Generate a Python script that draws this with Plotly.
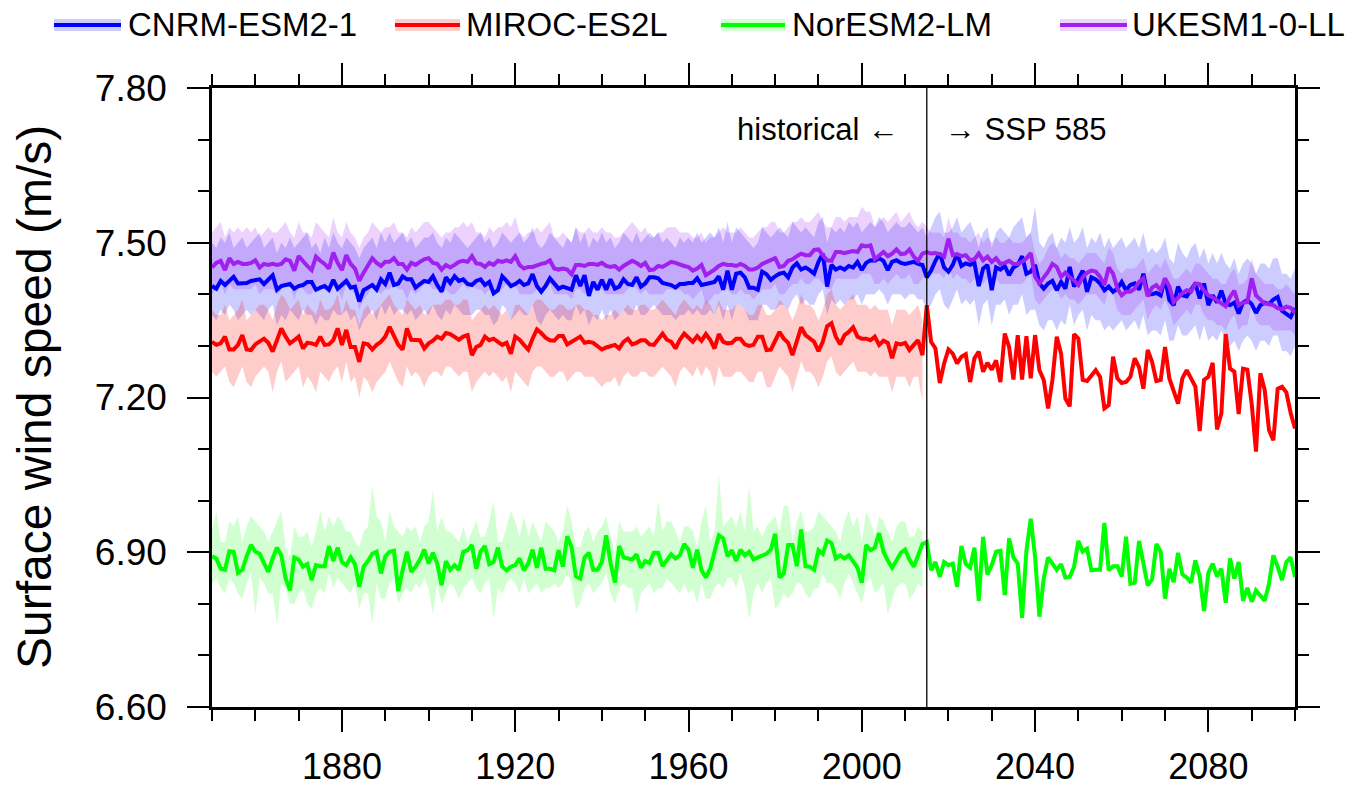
import plotly.graph_objects as go

FONT = "Liberation Sans, Arial, Helvetica, sans-serif"

years = list(range(1850, 2101))
hist_years = list(range(1850, 2015))

# ---------------- CNRM-ESM2-1 (blue) ----------------
cnrm = [
    7.416, 7.411, 7.426, 7.418, 7.426, 7.434, 7.421, 7.422, 7.422, 7.426,
    7.428, 7.429, 7.420, 7.429, 7.437, 7.409, 7.416, 7.418, 7.420, 7.411,
    7.416, 7.418, 7.424, 7.424, 7.409, 7.413, 7.416, 7.409, 7.428, 7.411,
    7.418, 7.426, 7.413, 7.415, 7.386, 7.408, 7.413, 7.418, 7.409, 7.429,
    7.420, 7.442, 7.418, 7.421, 7.435, 7.429, 7.429, 7.413, 7.420, 7.426,
    7.424, 7.435, 7.418, 7.405, 7.433, 7.422, 7.435, 7.426, 7.429, 7.420,
    7.418, 7.426, 7.429, 7.418,
    7.424, 7.402, 7.408, 7.435, 7.426, 7.416,
    7.420, 7.426, 7.418, 7.421, 7.439, 7.416, 7.405, 7.416, 7.431, 7.421,
    7.411, 7.415, 7.413, 7.409, 7.437, 7.416, 7.437, 7.397, 7.424, 7.409,
    7.428, 7.409, 7.429, 7.411, 7.415, 7.429, 7.420, 7.418, 7.433, 7.415,
    7.421, 7.433, 7.433, 7.431, 7.422, 7.420, 7.418, 7.413, 7.420, 7.420,
    7.422, 7.422, 7.431, 7.418, 7.421, 7.422, 7.424, 7.435, 7.409, 7.446,
    7.409, 7.440, 7.442, 7.433, 7.413,
    7.413, 7.409, 7.444, 7.439, 7.428,
    7.435, 7.440, 7.442, 7.433, 7.452, 7.460, 7.448, 7.452, 7.447, 7.440,
    7.463, 7.479, 7.415, 7.457, 7.448, 7.452, 7.448, 7.455, 7.452, 7.463,
    7.447, 7.461, 7.466, 7.465, 7.470, 7.465, 7.447, 7.463, 7.466, 7.461,
    7.459, 7.461, 7.463, 7.459, 7.457,
    7.433, 7.446, 7.465, 7.480, 7.452,
    7.444, 7.457, 7.479, 7.455, 7.460, 7.457, 7.461, 7.416, 7.450, 7.457,
    7.408, 7.452, 7.448, 7.455, 7.437, 7.452,
    7.457, 7.474, 7.440, 7.444,
    7.457, 7.421, 7.411, 7.421, 7.426, 7.408, 7.424, 7.411, 7.453, 7.415,
    7.431, 7.446, 7.405, 7.433, 7.429, 7.421, 7.408, 7.415, 7.405, 7.411,
    7.424, 7.408, 7.418, 7.421, 7.409, 7.440, 7.400, 7.400, 7.403, 7.398,
    7.431, 7.389, 7.379, 7.415, 7.398, 7.396, 7.409, 7.421, 7.392, 7.421,
    7.379, 7.398, 7.384, 7.407, 7.382, 7.379, 7.384, 7.363, 7.384, 7.389,
    7.381, 7.364, 7.379, 7.384, 7.381, 7.390, 7.395, 7.368, 7.362, 7.356,
    7.373,
]
cnrm_hi = [
    7.50, 7.49, 7.51, 7.50, 7.52, 7.49, 7.50, 7.51, 7.49, 7.50,
    7.51, 7.52, 7.49, 7.50, 7.51, 7.48, 7.50, 7.49, 7.51, 7.49,
    7.50, 7.51, 7.52, 7.49, 7.50, 7.48, 7.51, 7.49, 7.52, 7.50,
    7.49, 7.51, 7.50, 7.49, 7.47, 7.49, 7.50, 7.51, 7.49, 7.52,
    7.50, 7.52, 7.50, 7.51, 7.52, 7.50, 7.51, 7.49, 7.50, 7.51,
    7.51, 7.52, 7.50, 7.49, 7.51, 7.50, 7.52, 7.51, 7.50, 7.49,
    7.50, 7.51, 7.52, 7.50, 7.51, 7.49, 7.50, 7.52, 7.51, 7.50,
    7.51, 7.52, 7.50, 7.51, 7.53, 7.50, 7.49, 7.50, 7.52, 7.51,
    7.50, 7.49, 7.51, 7.50, 7.53, 7.50, 7.52, 7.49, 7.51, 7.50,
    7.52, 7.50, 7.51, 7.49, 7.50, 7.52, 7.51, 7.50, 7.52, 7.50,
    7.51, 7.52, 7.51, 7.52, 7.50, 7.51, 7.50, 7.49, 7.51, 7.50,
    7.51, 7.50, 7.52, 7.50, 7.51, 7.52, 7.51, 7.53, 7.50, 7.54,
    7.50, 7.53, 7.52, 7.51, 7.50, 7.49, 7.50, 7.53, 7.52, 7.51,
    7.52, 7.53, 7.52, 7.51, 7.54, 7.53, 7.52, 7.53, 7.52, 7.51,
    7.54, 7.55, 7.50, 7.53, 7.52, 7.53, 7.52, 7.54, 7.53, 7.54,
    7.52, 7.53, 7.54, 7.53, 7.55, 7.54, 7.52, 7.53, 7.54, 7.53,
    7.53, 7.54, 7.53, 7.52, 7.53,
    7.51, 7.53, 7.55, 7.56, 7.52,
    7.52, 7.53, 7.55, 7.52, 7.53, 7.54, 7.52, 7.49, 7.52, 7.53,
    7.49, 7.52, 7.53, 7.52, 7.51, 7.53, 7.54, 7.55, 7.51, 7.52,
    7.57, 7.50, 7.49, 7.51, 7.52, 7.49, 7.51, 7.50, 7.53, 7.50,
    7.51, 7.53, 7.49, 7.51, 7.50, 7.52, 7.49, 7.51, 7.49, 7.50,
    7.51, 7.49, 7.50, 7.51, 7.49, 7.52, 7.48, 7.49, 7.48, 7.49,
    7.51, 7.47, 7.46, 7.50, 7.48, 7.47, 7.49, 7.50, 7.47, 7.49,
    7.46, 7.48, 7.46, 7.48, 7.46, 7.45, 7.47, 7.44, 7.46, 7.47,
    7.46, 7.44, 7.46, 7.46, 7.45, 7.47, 7.47, 7.44, 7.44, 7.43,
    7.45,
]
cnrm_lo = [
    7.36, 7.35, 7.37, 7.36, 7.38, 7.37, 7.35, 7.36, 7.37, 7.36,
    7.37, 7.36, 7.35, 7.37, 7.38, 7.34, 7.36, 7.35, 7.37, 7.36,
    7.35, 7.37, 7.36, 7.36, 7.34, 7.36, 7.35, 7.35, 7.37, 7.36,
    7.36, 7.37, 7.35, 7.36, 7.33, 7.35, 7.36, 7.37, 7.35, 7.38,
    7.36, 7.38, 7.36, 7.37, 7.37, 7.36, 7.37, 7.35, 7.36, 7.37,
    7.36, 7.38, 7.36, 7.35, 7.37, 7.36, 7.38, 7.37, 7.36, 7.36,
    7.36, 7.37, 7.37, 7.36, 7.36, 7.34, 7.35, 7.38, 7.37, 7.35,
    7.36, 7.37, 7.36, 7.36, 7.38, 7.35, 7.34, 7.36, 7.37, 7.36,
    7.35, 7.36, 7.35, 7.35, 7.38, 7.36, 7.37, 7.34, 7.36, 7.35,
    7.37, 7.35, 7.37, 7.35, 7.36, 7.37, 7.36, 7.36, 7.38, 7.36,
    7.36, 7.37, 7.38, 7.37, 7.36, 7.36, 7.36, 7.35, 7.36, 7.36,
    7.37, 7.36, 7.37, 7.36, 7.36, 7.37, 7.36, 7.38, 7.35, 7.38,
    7.35, 7.38, 7.38, 7.37, 7.35, 7.35, 7.35, 7.38, 7.38, 7.37,
    7.37, 7.38, 7.38, 7.37, 7.39, 7.40, 7.38, 7.39, 7.38, 7.38,
    7.40, 7.41, 7.36, 7.39, 7.38, 7.39, 7.38, 7.39, 7.39, 7.40,
    7.38, 7.40, 7.40, 7.40, 7.41, 7.40, 7.38, 7.40, 7.40, 7.40,
    7.39, 7.40, 7.40, 7.39, 7.39,
    7.37, 7.38, 7.40, 7.41, 7.38,
    7.37, 7.39, 7.41, 7.38, 7.39, 7.38, 7.39, 7.34, 7.38, 7.39,
    7.34, 7.38, 7.38, 7.39, 7.36, 7.38, 7.38, 7.40, 7.36, 7.37,
    7.37, 7.34, 7.33, 7.35, 7.35, 7.33, 7.35, 7.34, 7.38, 7.34,
    7.36, 7.37, 7.33, 7.36, 7.35, 7.35, 7.33, 7.34, 7.33, 7.34,
    7.35, 7.33, 7.34, 7.35, 7.33, 7.36, 7.32, 7.33, 7.33, 7.32,
    7.35, 7.31, 7.31, 7.34, 7.32, 7.32, 7.33, 7.34, 7.31, 7.34,
    7.31, 7.32, 7.31, 7.33, 7.31, 7.30, 7.31, 7.29, 7.31, 7.32,
    7.31, 7.29, 7.31, 7.31, 7.30, 7.32, 7.32, 7.29, 7.29, 7.28,
    7.30,
]

# ---------------- MIROC-ES2L (red) ----------------
miroc = [
    7.308, 7.302, 7.305, 7.318, 7.293, 7.293, 7.302, 7.321, 7.293, 7.292,
    7.303, 7.308, 7.314, 7.306, 7.289, 7.311, 7.334, 7.318, 7.305, 7.311,
    7.318, 7.295, 7.306, 7.305, 7.302, 7.318, 7.302, 7.303, 7.311, 7.334,
    7.302, 7.331, 7.298, 7.298, 7.269, 7.305, 7.303, 7.293, 7.302, 7.308,
    7.318, 7.337, 7.318, 7.302, 7.293, 7.334, 7.312, 7.312, 7.311, 7.295,
    7.305, 7.310, 7.318, 7.314, 7.325, 7.323, 7.318, 7.312, 7.318, 7.321,
    7.282, 7.298, 7.302, 7.318,
    7.311, 7.314, 7.308, 7.302, 7.306, 7.285,
    7.318, 7.312, 7.302, 7.293, 7.314, 7.332, 7.325, 7.316, 7.311, 7.310,
    7.319, 7.319, 7.303, 7.308, 7.314, 7.318, 7.306, 7.308, 7.306, 7.300,
    7.293, 7.297, 7.300, 7.302, 7.295, 7.308, 7.314, 7.303, 7.306, 7.311,
    7.311, 7.303, 7.302, 7.314, 7.324, 7.312, 7.308, 7.295, 7.312, 7.324,
    7.316, 7.308, 7.319, 7.310, 7.323, 7.312, 7.295, 7.323, 7.308, 7.305,
    7.306, 7.314, 7.314, 7.303, 7.300,
    7.302, 7.318, 7.318, 7.292, 7.293,
    7.310, 7.327, 7.314, 7.306, 7.282, 7.311, 7.336, 7.321, 7.314, 7.308,
    7.290, 7.308, 7.338, 7.344, 7.318, 7.303, 7.321, 7.327, 7.336, 7.318,
    7.314, 7.314, 7.311, 7.318, 7.302, 7.310, 7.306, 7.276, 7.305, 7.303,
    7.306, 7.292, 7.302, 7.311, 7.282,
    7.379, 7.308, 7.295, 7.228, 7.266,
    7.293, 7.285, 7.266, 7.279, 7.284, 7.230, 7.276, 7.289, 7.250, 7.267,
    7.254, 7.272, 7.230, 7.324, 7.298, 7.235,
    7.321, 7.235, 7.319, 7.237,
    7.321, 7.253, 7.234, 7.179, 7.234, 7.318, 7.285, 7.198, 7.183, 7.323,
    7.314, 7.234, 7.232, 7.243, 7.253, 7.240, 7.179, 7.185, 7.279, 7.237,
    7.228, 7.230, 7.240, 7.276, 7.259, 7.217, 7.292, 7.269, 7.232, 7.234,
    7.298, 7.237, 7.211, 7.188, 7.237, 7.253, 7.237, 7.221, 7.135, 7.234,
    7.240, 7.267, 7.138, 7.169, 7.323, 7.256, 7.250, 7.168, 7.256, 7.254,
    7.188, 7.095, 7.247, 7.215, 7.137, 7.117, 7.217, 7.221, 7.210, 7.170,
    7.140,
]
miroc_hi = [
    7.37, 7.36, 7.36, 7.38, 7.35, 7.36, 7.37, 7.39, 7.35, 7.36,
    7.37, 7.38, 7.38, 7.37, 7.35, 7.38, 7.40, 7.39, 7.37, 7.38,
    7.39, 7.36, 7.38, 7.37, 7.36, 7.39, 7.37, 7.37, 7.38, 7.40,
    7.36, 7.39, 7.37, 7.37, 7.34, 7.37, 7.38, 7.36, 7.37, 7.38,
    7.39, 7.40, 7.38, 7.37, 7.36, 7.39, 7.38, 7.37, 7.38, 7.36,
    7.37, 7.38, 7.38, 7.38, 7.39, 7.39, 7.38, 7.38, 7.39, 7.39,
    7.35, 7.36, 7.37, 7.38, 7.37, 7.38, 7.37, 7.36, 7.37, 7.35,
    7.38, 7.38, 7.37, 7.36, 7.38, 7.39, 7.39, 7.38, 7.37, 7.37,
    7.38, 7.38, 7.37, 7.37, 7.38, 7.38, 7.37, 7.37, 7.36, 7.36,
    7.35, 7.36, 7.36, 7.37, 7.36, 7.37, 7.38, 7.37, 7.37, 7.38,
    7.38, 7.37, 7.37, 7.38, 7.39, 7.38, 7.37, 7.36, 7.38, 7.39,
    7.38, 7.37, 7.38, 7.37, 7.39, 7.38, 7.36, 7.39, 7.37, 7.37,
    7.37, 7.38, 7.38, 7.37, 7.36, 7.36, 7.38, 7.38, 7.36, 7.36,
    7.37, 7.39, 7.38, 7.37, 7.35, 7.37, 7.40, 7.38, 7.38, 7.37,
    7.35, 7.37, 7.40, 7.41, 7.38, 7.37, 7.38, 7.39, 7.40, 7.38,
    7.38, 7.38, 7.37, 7.38, 7.37, 7.37, 7.37, 7.34, 7.37, 7.37,
    7.37, 7.36, 7.37, 7.38, 7.35,
]
miroc_lo = [
    7.25, 7.24, 7.25, 7.26, 7.23, 7.22, 7.24, 7.26, 7.23, 7.22,
    7.24, 7.25, 7.26, 7.25, 7.21, 7.25, 7.27, 7.23, 7.24, 7.25,
    7.26, 7.22, 7.24, 7.23, 7.21, 7.25, 7.24, 7.23, 7.25, 7.26,
    7.23, 7.27, 7.23, 7.24, 7.20, 7.24, 7.23, 7.21, 7.23, 7.24,
    7.25, 7.27, 7.25, 7.23, 7.22, 7.26, 7.24, 7.25, 7.24, 7.22,
    7.24, 7.25, 7.25, 7.24, 7.26, 7.26, 7.25, 7.24, 7.25, 7.25,
    7.21, 7.23, 7.24, 7.25, 7.24, 7.25, 7.24, 7.23, 7.24, 7.21,
    7.25, 7.24, 7.23, 7.22, 7.25, 7.26, 7.26, 7.25, 7.24, 7.24,
    7.25, 7.25, 7.23, 7.24, 7.25, 7.25, 7.24, 7.24, 7.24, 7.23,
    7.22, 7.23, 7.23, 7.24, 7.22, 7.24, 7.25, 7.24, 7.24, 7.25,
    7.25, 7.24, 7.24, 7.25, 7.26, 7.25, 7.24, 7.22, 7.25, 7.26,
    7.25, 7.24, 7.26, 7.24, 7.26, 7.25, 7.22, 7.26, 7.24, 7.24,
    7.24, 7.25, 7.25, 7.24, 7.23, 7.23, 7.25, 7.25, 7.22, 7.22,
    7.24, 7.26, 7.25, 7.24, 7.21, 7.24, 7.27, 7.25, 7.25, 7.24,
    7.22, 7.24, 7.27, 7.28, 7.25, 7.24, 7.25, 7.26, 7.27, 7.25,
    7.25, 7.25, 7.24, 7.25, 7.24, 7.24, 7.24, 7.21, 7.24, 7.24,
    7.24, 7.22, 7.24, 7.24, 7.19,
]

# ---------------- NorESM2-LM (green) ----------------
noresm = [
    6.892, 6.888, 6.868, 6.866, 6.902, 6.901, 6.860, 6.866, 6.892, 6.914,
    6.901, 6.897, 6.879, 6.862, 6.888, 6.909, 6.894, 6.849, 6.826, 6.890,
    6.886, 6.872, 6.877, 6.846, 6.875, 6.873, 6.873, 6.912, 6.883, 6.909,
    6.881, 6.875, 6.890, 6.877, 6.833, 6.872, 6.883, 6.897, 6.901, 6.859,
    6.892, 6.901, 6.903, 6.825, 6.865, 6.901, 6.862, 6.872, 6.886, 6.905,
    6.878, 6.899, 6.878, 6.836, 6.883, 6.866, 6.875, 6.866, 6.901, 6.904,
    6.914, 6.868, 6.901, 6.912, 6.877, 6.881, 6.909, 6.872, 6.865, 6.872,
    6.875, 6.888, 6.865, 6.878, 6.905, 6.870, 6.909, 6.868, 6.868, 6.865,
    6.904, 6.872, 6.931, 6.910,
    6.853, 6.849, 6.890, 6.899, 6.866, 6.866,
    6.881, 6.933, 6.879, 6.841, 6.912, 6.890, 6.888, 6.886, 6.896, 6.870,
    6.883, 6.879, 6.899, 6.899, 6.873, 6.883, 6.896, 6.888, 6.894, 6.916,
    6.905, 6.870, 6.905, 6.865, 6.851, 6.868, 6.901, 6.933, 6.927, 6.892,
    6.904, 6.883, 6.905, 6.894, 6.901, 6.886, 6.890, 6.894, 6.897, 6.905,
    6.936, 6.851, 6.859, 6.914, 6.914, 6.873, 6.944, 6.873, 6.872, 6.866,
    6.904, 6.897, 6.923, 6.918, 6.888, 6.894, 6.888, 6.894, 6.881, 6.870,
    6.841, 6.914, 6.904, 6.909, 6.937, 6.901, 6.884, 6.870, 6.884, 6.899,
    6.905, 6.886, 6.872, 6.897, 6.916,
    6.920, 6.865, 6.881, 6.852, 6.881,
    6.875, 6.878, 6.833, 6.912, 6.877, 6.870, 6.909, 6.806, 6.930, 6.857,
    6.875, 6.901, 6.903, 6.817, 6.927, 6.890, 6.878, 6.773, 6.903, 6.965,
    6.891, 6.775, 6.849, 6.890, 6.878, 6.866, 6.877, 6.851, 6.852, 6.872,
    6.922, 6.901, 6.907, 6.865, 6.866, 6.866, 6.957, 6.865, 6.873, 6.873,
    6.853, 6.930, 6.839, 6.841, 6.922, 6.879, 6.836, 6.847, 6.916, 6.901,
    6.810, 6.868, 6.842, 6.899, 6.857, 6.851, 6.841, 6.884, 6.853, 6.786,
    6.860, 6.878, 6.853, 6.868, 6.802, 6.888, 6.849, 6.881, 6.806, 6.831,
    6.804, 6.826, 6.817, 6.806, 6.839, 6.894, 6.872, 6.846, 6.881, 6.890,
    6.852,
]
noresm_hi = [
    6.94, 6.98, 6.92, 6.92, 6.96, 6.95, 6.97, 6.92, 6.95, 6.97,
    6.96, 6.95, 6.94, 6.92, 6.94, 6.96, 6.98, 6.91, 6.89, 6.95,
    6.93, 6.93, 6.94, 6.91, 6.94, 6.98, 6.94, 6.97, 6.95, 6.97,
    6.96, 6.94, 6.94, 6.92, 6.91, 6.94, 6.95, 7.03, 6.97, 6.96,
    6.92, 6.98, 6.95, 6.94, 6.93, 6.95, 6.94, 6.95, 6.92, 6.95,
    6.96, 7.02, 6.94, 6.97, 6.94, 6.94, 6.93, 6.92, 6.95, 6.92,
    6.94, 6.96, 6.93, 6.93, 6.96, 7.00, 6.92, 6.92, 6.95, 6.98,
    6.96, 6.93, 6.97, 6.93, 6.96, 6.94, 6.92, 6.96, 6.95, 6.94,
    6.92, 6.94, 6.99, 6.96, 6.91, 6.91, 6.94, 6.95, 6.92, 6.94,
    6.95, 6.97, 6.93, 6.90, 6.96, 6.94, 6.94, 6.94, 6.95, 6.93,
    6.94, 6.95, 6.93, 7.00, 6.94, 6.96, 6.96, 6.94, 6.92, 6.95,
    6.95, 6.94, 6.91, 6.96, 6.99, 6.92, 6.94, 7.05, 6.95, 6.96,
    6.97, 6.95, 6.98, 6.94, 7.03, 6.94, 6.95, 6.93, 6.95, 6.96,
    6.97, 6.94, 6.99, 6.99, 6.92, 6.96, 6.98, 6.94, 6.94, 6.95,
    6.98, 6.97, 6.96, 6.95, 6.94, 6.92, 6.96, 6.98, 6.95, 6.97,
    6.92, 6.98, 6.96, 6.93, 6.97, 6.96, 6.94, 6.92, 6.95, 6.96,
    6.96, 6.93, 6.93, 6.95, 6.94,
]
noresm_lo = [
    6.84, 6.85, 6.83, 6.82, 6.85, 6.84, 6.82, 6.81, 6.84, 6.86,
    6.78, 6.85, 6.84, 6.82, 6.82, 6.76, 6.84, 6.83, 6.80, 6.80,
    6.82, 6.83, 6.80, 6.79, 6.82, 6.83, 6.82, 6.86, 6.83, 6.85,
    6.84, 6.83, 6.82, 6.84, 6.79, 6.82, 6.82, 6.76, 6.84, 6.81,
    6.81, 6.84, 6.85, 6.80, 6.82, 6.83, 6.82, 6.84, 6.83, 6.85,
    6.83, 6.78, 6.84, 6.80, 6.82, 6.84, 6.83, 6.81, 6.83, 6.84,
    6.85, 6.83, 6.82, 6.84, 6.85, 6.77, 6.83, 6.82, 6.84, 6.85,
    6.84, 6.82, 6.85, 6.82, 6.83, 6.84, 6.82, 6.83, 6.83, 6.84,
    6.83, 6.84, 6.86, 6.84, 6.79, 6.80, 6.83, 6.84, 6.82, 6.83,
    6.84, 6.86, 6.82, 6.80, 6.83, 6.84, 6.83, 6.83, 6.78, 6.82,
    6.83, 6.84, 6.82, 6.83, 6.83, 6.85, 6.84, 6.83, 6.82, 6.84,
    6.82, 6.83, 6.80, 6.84, 6.81, 6.81, 6.83, 6.84, 6.83, 6.85,
    6.85, 6.83, 6.86, 6.83, 6.77, 6.82, 6.84, 6.82, 6.84, 6.85,
    6.79, 6.80, 6.82, 6.81, 6.82, 6.84, 6.84, 6.82, 6.81, 6.83,
    6.83, 6.86, 6.84, 6.84, 6.83, 6.81, 6.84, 6.86, 6.84, 6.82,
    6.80, 6.84, 6.85, 6.82, 6.83, 6.84, 6.78, 6.81, 6.83, 6.84,
    6.84, 6.81, 6.82, 6.84, 6.83,
]

# ---------------- UKESM1-0-LL (purple) ----------------
ukesm = [
    7.452, 7.461, 7.465, 7.447, 7.470, 7.459, 7.463, 7.459, 7.459, 7.461,
    7.466, 7.452, 7.459, 7.457, 7.459, 7.457, 7.459, 7.468, 7.465, 7.446,
    7.474, 7.463, 7.455, 7.447, 7.473, 7.465, 7.459, 7.450, 7.481, 7.461,
    7.447, 7.476, 7.459, 7.450, 7.426, 7.442, 7.455, 7.470, 7.461, 7.455,
    7.463, 7.463, 7.470, 7.459, 7.459, 7.448, 7.461, 7.457, 7.463, 7.468,
    7.470, 7.461, 7.459, 7.448, 7.457, 7.452, 7.457, 7.463, 7.465, 7.463,
    7.474, 7.460, 7.459, 7.453,
    7.461, 7.457, 7.465, 7.463, 7.466, 7.463,
    7.474, 7.457, 7.450, 7.453, 7.453, 7.457, 7.459, 7.461, 7.466, 7.450,
    7.448, 7.450, 7.448, 7.439, 7.457, 7.457, 7.455, 7.459, 7.459, 7.457,
    7.461, 7.455, 7.453, 7.455, 7.448, 7.455, 7.461, 7.465, 7.461, 7.455,
    7.461, 7.447, 7.448, 7.455, 7.453, 7.459, 7.463, 7.461, 7.457, 7.455,
    7.453, 7.446, 7.450, 7.457, 7.437, 7.442, 7.448, 7.455, 7.459, 7.457,
    7.457, 7.455, 7.459, 7.455, 7.448,
    7.448, 7.452, 7.459, 7.463, 7.466,
    7.470, 7.453, 7.455, 7.465, 7.468, 7.474, 7.479, 7.476, 7.476, 7.486,
    7.487, 7.476, 7.466, 7.465, 7.482, 7.482, 7.480, 7.482, 7.484, 7.482,
    7.495, 7.493, 7.495, 7.468, 7.476, 7.482, 7.474, 7.479, 7.487, 7.478,
    7.479, 7.487, 7.473, 7.465, 7.479,
    7.482, 7.479, 7.480, 7.478, 7.473,
    7.508, 7.476, 7.478, 7.474, 7.476, 7.466, 7.468, 7.479, 7.466, 7.473,
    7.463, 7.470, 7.459, 7.461, 7.465, 7.459,
    7.459, 7.463, 7.470, 7.480,
    7.434, 7.421, 7.433, 7.444, 7.459, 7.453, 7.434, 7.442, 7.433, 7.427,
    7.418, 7.433, 7.442, 7.446, 7.444, 7.434, 7.418, 7.452, 7.440, 7.411,
    7.398, 7.405, 7.405, 7.411, 7.424, 7.431, 7.396, 7.413, 7.418, 7.408,
    7.431, 7.415, 7.385, 7.394, 7.402, 7.408, 7.405, 7.421, 7.420, 7.407,
    7.398, 7.394, 7.389, 7.382, 7.377, 7.395, 7.407, 7.379, 7.384, 7.385,
    7.431, 7.398, 7.389, 7.382, 7.381, 7.379, 7.373, 7.371, 7.376, 7.374,
    7.364,
]
ukesm_hi = [
    7.52, 7.53, 7.54, 7.51, 7.53, 7.52, 7.53, 7.52, 7.53, 7.52,
    7.53, 7.51, 7.52, 7.53, 7.52, 7.52, 7.53, 7.54, 7.52, 7.51,
    7.54, 7.52, 7.52, 7.51, 7.54, 7.53, 7.52, 7.51, 7.55, 7.52,
    7.51, 7.54, 7.52, 7.51, 7.49, 7.51, 7.52, 7.54, 7.53, 7.52,
    7.53, 7.53, 7.54, 7.52, 7.52, 7.51, 7.53, 7.52, 7.53, 7.54,
    7.54, 7.53, 7.52, 7.51, 7.52, 7.52, 7.53, 7.53, 7.54, 7.53,
    7.54, 7.52, 7.52, 7.51, 7.53, 7.52, 7.53, 7.53, 7.54, 7.53,
    7.55, 7.52, 7.51, 7.52, 7.52, 7.53, 7.52, 7.53, 7.54, 7.51,
    7.51, 7.52, 7.51, 7.50, 7.53, 7.52, 7.52, 7.53, 7.52, 7.52,
    7.53, 7.52, 7.52, 7.51, 7.51, 7.52, 7.53, 7.54, 7.53, 7.52,
    7.53, 7.51, 7.51, 7.52, 7.52, 7.53, 7.53, 7.53, 7.52, 7.52,
    7.52, 7.51, 7.51, 7.52, 7.50, 7.51, 7.51, 7.52, 7.53, 7.52,
    7.52, 7.52, 7.53, 7.52, 7.51, 7.51, 7.52, 7.53, 7.53, 7.54,
    7.54, 7.52, 7.52, 7.53, 7.54, 7.54, 7.55, 7.54, 7.54, 7.55,
    7.56, 7.54, 7.53, 7.53, 7.55, 7.55, 7.54, 7.55, 7.55, 7.55,
    7.57, 7.56, 7.56, 7.53, 7.54, 7.55, 7.54, 7.55, 7.56, 7.54,
    7.55, 7.56, 7.54, 7.53, 7.54,
    7.53, 7.52, 7.52, 7.52, 7.51,
    7.55, 7.52, 7.52, 7.51, 7.51, 7.50, 7.51, 7.52, 7.50, 7.51,
    7.50, 7.51, 7.50, 7.50, 7.51, 7.50, 7.50, 7.50, 7.51, 7.52,
    7.48, 7.46, 7.47, 7.49, 7.50, 7.49, 7.47, 7.48, 7.47, 7.47,
    7.46, 7.47, 7.48, 7.48, 7.48, 7.47, 7.46, 7.49, 7.48, 7.45,
    7.44, 7.45, 7.45, 7.45, 7.46, 7.47, 7.44, 7.45, 7.46, 7.45,
    7.47, 7.45, 7.43, 7.43, 7.44, 7.45, 7.44, 7.46, 7.46, 7.45,
    7.44, 7.43, 7.43, 7.42, 7.42, 7.44, 7.45, 7.42, 7.42, 7.43,
    7.47, 7.44, 7.43, 7.42, 7.42, 7.42, 7.41, 7.41, 7.42, 7.41,
    7.40,
]
ukesm_lo = [
    7.40, 7.41, 7.42, 7.40, 7.42, 7.41, 7.41, 7.41, 7.41, 7.41,
    7.42, 7.40, 7.41, 7.41, 7.41, 7.40, 7.41, 7.42, 7.42, 7.39,
    7.42, 7.41, 7.40, 7.40, 7.42, 7.41, 7.41, 7.40, 7.43, 7.41,
    7.39, 7.42, 7.41, 7.40, 7.37, 7.39, 7.40, 7.42, 7.41, 7.40,
    7.41, 7.41, 7.42, 7.41, 7.41, 7.39, 7.41, 7.40, 7.41, 7.42,
    7.42, 7.41, 7.41, 7.40, 7.41, 7.40, 7.40, 7.41, 7.42, 7.41,
    7.42, 7.41, 7.41, 7.40, 7.41, 7.40, 7.41, 7.41, 7.42, 7.41,
    7.42, 7.40, 7.40, 7.40, 7.40, 7.41, 7.41, 7.41, 7.42, 7.40,
    7.40, 7.40, 7.40, 7.39, 7.41, 7.41, 7.40, 7.41, 7.41, 7.41,
    7.41, 7.40, 7.40, 7.40, 7.40, 7.40, 7.41, 7.42, 7.41, 7.40,
    7.41, 7.40, 7.40, 7.40, 7.40, 7.41, 7.41, 7.41, 7.41, 7.40,
    7.40, 7.39, 7.40, 7.41, 7.38, 7.39, 7.40, 7.40, 7.41, 7.41,
    7.40, 7.40, 7.41, 7.40, 7.40, 7.39, 7.40, 7.41, 7.41, 7.41,
    7.42, 7.40, 7.40, 7.41, 7.42, 7.42, 7.43, 7.42, 7.42, 7.43,
    7.43, 7.42, 7.41, 7.41, 7.43, 7.43, 7.43, 7.43, 7.43, 7.43,
    7.44, 7.44, 7.44, 7.42, 7.42, 7.43, 7.42, 7.43, 7.44, 7.43,
    7.43, 7.44, 7.42, 7.42, 7.43,
    7.44, 7.44, 7.44, 7.44, 7.43,
    7.46, 7.43, 7.44, 7.43, 7.43, 7.42, 7.43, 7.44, 7.42, 7.43,
    7.42, 7.43, 7.42, 7.42, 7.42, 7.42, 7.42, 7.42, 7.43, 7.44,
    7.39, 7.38, 7.39, 7.40, 7.41, 7.41, 7.39, 7.40, 7.39, 7.39,
    7.38, 7.39, 7.40, 7.40, 7.40, 7.39, 7.38, 7.41, 7.40, 7.37,
    7.36, 7.36, 7.36, 7.37, 7.38, 7.39, 7.35, 7.37, 7.38, 7.37,
    7.39, 7.37, 7.34, 7.35, 7.36, 7.37, 7.36, 7.38, 7.38, 7.36,
    7.35, 7.35, 7.34, 7.34, 7.33, 7.35, 7.36, 7.33, 7.34, 7.34,
    7.38, 7.35, 7.34, 7.34, 7.34, 7.33, 7.33, 7.33, 7.33, 7.33,
    7.32,
]

model_names = ["CNRM-ESM2-1", "MIROC-ES2L", "NorESM2-LM", "UKESM1-0-LL"]
line_colors = ["#0000ff", "#ff0000", "#00ff00", "#a020f0"]
band_colors = ["rgba(0,0,255,0.2)", "rgba(255,0,0,0.2)",
               "rgba(0,255,0,0.18)", "rgba(160,32,240,0.2)"]

x_ticks = [1880, 1920, 1960, 2000, 2040, 2080]
y_ticks = [6.60, 6.90, 7.20, 7.50, 7.80]
y_tick_text = ["6.60", "6.90", "7.20", "7.50", "7.80"]
split_year = 2015
y_range = [6.60, 7.80]
x_range = [1850, 2100]

for arr in (cnrm, cnrm_hi, cnrm_lo, miroc, noresm, ukesm, ukesm_hi, ukesm_lo):
    assert len(arr) == len(years), len(arr)
for arr in (miroc_hi, miroc_lo, noresm_hi, noresm_lo):
    assert len(arr) == len(hist_years), len(arr)

fig = go.Figure()

bands = [
    (years, cnrm_hi, cnrm_lo, band_colors[0]),
    (hist_years, miroc_hi, miroc_lo, band_colors[1]),
    (hist_years, noresm_hi, noresm_lo, band_colors[2]),
    (years, ukesm_hi, ukesm_lo, band_colors[3]),
]
for xs, hi, lo, col in bands:
    fig.add_trace(go.Scatter(x=xs, y=hi, mode="lines", line=dict(width=0),
                             hoverinfo="skip", showlegend=False))
    fig.add_trace(go.Scatter(x=xs, y=lo, mode="lines", line=dict(width=0),
                             fill="tonexty", fillcolor=col,
                             hoverinfo="skip", showlegend=False))

for name, ys, col in zip(model_names, [cnrm, miroc, noresm, ukesm], line_colors):
    fig.add_trace(go.Scatter(x=years, y=ys, mode="lines", name=name,
                             line=dict(color=col, width=4), showlegend=False))

# plot area geometry (pixels) for decoration placement
W, H = 1354, 789
L, R, T, B = 212, 1295, 88, 707


def px(xp):
    return (xp - L) / (R - L)


def py(yp):
    return (B - yp) / (B - T)


shapes = [
    dict(type="line", xref="x", yref="paper", x0=split_year, x1=split_year,
         y0=0, y1=1, line=dict(color="black", width=1.3)),
]
annotations = [
    dict(xref="x", yref="y", x=split_year, y=7.72, text="historical \u2190",
         showarrow=False, xanchor="right", yanchor="middle", xshift=-26,
         font=dict(family=FONT, size=31, color="black")),
    dict(xref="x", yref="y", x=split_year, y=7.72, text="\u2192 SSP 585",
         showarrow=False, xanchor="left", yanchor="middle", xshift=16,
         font=dict(family=FONT, size=31, color="black")),
    dict(xref="paper", yref="paper", x=px(34), y=py(397),
         text="Surface wind speed (m/s)", textangle=-90, showarrow=False,
         xanchor="center", yanchor="middle",
         font=dict(family=FONT, size=48, color="black")),
]

legend_pos = [(54, 121, 126), (395, 460, 464), (721, 785, 790), (1060, 1127, 1130)]
ly = 25
for (x0, x1, xt), name, lc, bc in zip(legend_pos, model_names, line_colors, band_colors):
    shapes.append(dict(type="rect", xref="paper", yref="paper",
                       x0=px(x0), x1=px(x1), y0=py(ly + 6), y1=py(ly - 6),
                       fillcolor=bc, line=dict(width=0), layer="above"))
    shapes.append(dict(type="line", xref="paper", yref="paper",
                       x0=px(x0), x1=px(x1), y0=py(ly), y1=py(ly),
                       line=dict(color=lc, width=4), layer="above"))
    annotations.append(dict(xref="paper", yref="paper", x=px(xt), y=py(ly),
                            text=name, showarrow=False, xanchor="left",
                            yanchor="middle",
                            font=dict(family=FONT, size=33, color="black")))

axis_common = dict(
    showgrid=False, zeroline=False, showline=True, linecolor="black",
    linewidth=2.5, mirror="ticks", ticks="outside", ticklen=22, tickwidth=2,
    tickcolor="black", automargin=False,
)

fig.update_xaxes(range=x_range, tickmode="array", tickvals=x_ticks,
                 ticktext=[str(v) for v in x_ticks], ticklabelstandoff=4,
                 tickfont=dict(family=FONT, size=36, color="black"),
                 minor=dict(tickmode="linear", tick0=1850, dtick=10, ticklen=11,
                            tickwidth=2, tickcolor="black", ticks="outside",
                            showgrid=False),
                 **axis_common)
fig.update_yaxes(range=y_range, tickmode="array", tickvals=y_ticks,
                 ticktext=y_tick_text, ticklabelstandoff=13,
                 tickfont=dict(family=FONT, size=37, color="black"),
                 minor=dict(tickmode="linear", tick0=6.6, dtick=0.1, ticklen=11,
                            tickwidth=2, tickcolor="black", ticks="outside",
                            showgrid=False),
                 **axis_common)

fig.update_layout(
    width=W, height=H,
    margin=dict(l=L, r=W - R, t=T, b=H - B, pad=0),
    paper_bgcolor="white", plot_bgcolor="white",
    showlegend=False,
    shapes=shapes, annotations=annotations,
    font=dict(family=FONT, color="black"),
)

fig.write_html("out.html")
